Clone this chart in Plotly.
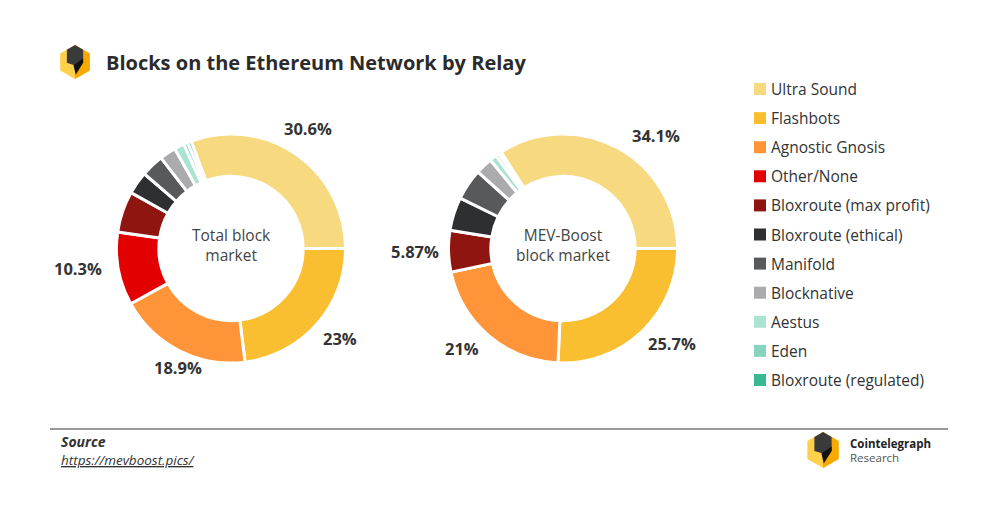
import plotly.graph_objects as go

W, H = 995, 514
PAD = 8  # default body margin of the html page

relays = ['Ultra Sound', 'Flashbots', 'Agnostic Gnosis', 'Other/None',
          'Bloxroute (max profit)', 'Bloxroute (ethical)', 'Manifold',
          'Blocknative', 'Aestus', 'Eden', 'Bloxroute (regulated)']
total_market = [30.6, 23.0, 18.9, 10.3, 5.8, 3.2, 3.2, 2.3, 1.4, 0.6, 0.5]
mevboost_market = [34.1, 25.7, 21.0, 0.0, 5.87, 4.7, 4.4, 2.4, 1.0, 0.5, 0.35]
total_labels = ['30.6%', '23%', '18.9%', '10.3%']
mevboost_labels = ['34.1%', '25.7%', '21%', '5.87%']

colors = ['#F7D980', '#F9BF30', '#FF9438', '#E20000', '#8E1510', '#2E2F31',
          '#58595B', '#ABABAD', '#ABE3D2', '#87D5BE', '#38B994']

FONT = 'Open Sans'
DARK = '#333333'
FW, FH = W - 2 * PAD, H - 2 * PAD


def px(x, y):
    # window pixel position -> paper coords
    return (x - PAD) / FW, 1 - (y - PAD) / FH


def dom(cx, cy, r):
    x0, y0 = px(cx - r, cy + r)
    x1, y1 = px(cx + r, cy - r)
    return dict(x=[x0, x1], y=[y0, y1])


def rot(vals):
    # first slice (Ultra Sound) ends at 3 o'clock, the rest go clockwise from there
    return 90 - 360 * vals[0] / sum(vals)


fig = go.Figure()
for vals, cx in [(total_market, 231), (mevboost_market, 563)]:
    fig.add_trace(go.Pie(
        labels=relays, values=vals, sort=False, direction='clockwise',
        rotation=rot(vals), hole=0.63, domain=dom(cx, 248.5, 114.5),
        marker=dict(colors=colors, line=dict(color='white', width=3)),
        textinfo='none', showlegend=False,
        hovertemplate='%{label}: %{value}%<extra></extra>'))

ann = []
shapes = []


def text(x, y, t, size, color=DARK, xanchor='center'):
    xx, yy = px(x, y)
    ann.append(dict(x=xx, y=yy, xref='paper', yref='paper', xanchor=xanchor, yanchor='middle',
                    text=t, showarrow=False, font=dict(size=size, color=color, family=FONT)))


# percentage labels
label_pos = [[(308, 128), (340, 338), (178, 367), (78, 268)],
             [(656, 136), (672, 343), (462, 348), (415, 251)]]
for labs, pos in zip([total_labels, mevboost_labels], label_pos):
    for t, (x, y) in zip(labs, pos):
        text(x, y, '<b>' + t + '</b>', 16.5)

# centre texts
text(231, 245, 'Total block<br>market', 15.5, '#444444')
text(563, 245, 'MEV-Boost<br>block market', 15.5, '#444444')

# title
text(104, 62, '<b>Blocks on the Ethereum Network by Relay</b>', 20, '#2b2b2b', 'left')

# manual legend
for i, (name, c) in enumerate(zip(relays, colors)):
    y = 89 + 29.1 * i
    x0, y0 = px(754, y + 6)
    x1, y1 = px(766, y - 6)
    shapes.append(dict(type='rect', xref='paper', yref='paper', x0=x0, x1=x1, y0=y0, y1=y1,
                       fillcolor=c, line=dict(width=0)))
    text(769, y, name, 15.5, DARK, 'left')

# footer
x0, y0 = px(50, 429)
x1, _ = px(948, 429)
shapes.append(dict(type='line', xref='paper', yref='paper', x0=x0, x1=x1, y0=y0, y1=y0,
                   line=dict(color='#333333', width=1.2)))
text(59, 441, '<b><i>Source</i></b>', 14, DARK, 'left')
text(59, 460, '<i><u>https://mevboost.pics/</u></i>', 13.5, DARK, 'left')
text(848, 443, '<b>Cointelegraph</b>', 11.5, '#222222', 'left')
text(848, 457.5, 'Research', 11.5, '#555555', 'left')


def logo(cx, cy, s):
    # small hexagon logo, s = half-height in pixels
    w = s * 0.87

    def P(pts):
        out = []
        for k, (a, b) in enumerate(pts):
            x, y = px(cx + a * w, cy + b * s)
            out.append(('M' if k == 0 else 'L') + f'{x:.5f},{y:.5f}')
        return ' '.join(out) + ' Z'
    hexa = [(0, -1), (1, -0.5), (1, 0.5), (0, 1), (-1, 0.5), (-1, -0.5)]
    shapes.append(dict(type='path', xref='paper', yref='paper', path=P(hexa),
                       fillcolor='#FFD04A', line=dict(width=0)))
    right = [(0, -1), (1, -0.5), (1, 0.5), (0, 1)]
    shapes.append(dict(type='path', xref='paper', yref='paper', path=P(right),
                       fillcolor='#F8A900', line=dict(width=0)))
    top = [(-0.55, -0.72), (0, -1), (0.55, -0.72), (0.55, 0.05), (0, 0.2), (-0.55, 0.05)]
    shapes.append(dict(type='path', xref='paper', yref='paper', path=P(top),
                       fillcolor='#3A3A3A', line=dict(width=0)))
    bolt = [(0.55, -0.2), (0.55, 0.05), (0.05, 0.75), (-0.1, 0.2)]
    shapes.append(dict(type='path', xref='paper', yref='paper', path=P(bolt),
                       fillcolor='#111111', line=dict(width=0)))


logo(75, 62, 17)
logo(823, 450, 18)

fig.update_layout(width=FW, height=FH, margin=dict(l=0, r=0, t=0, b=0),
                  paper_bgcolor='white', plot_bgcolor='white',
                  annotations=ann, shapes=shapes, font=dict(family=FONT))
fig.write_html('out.html')
